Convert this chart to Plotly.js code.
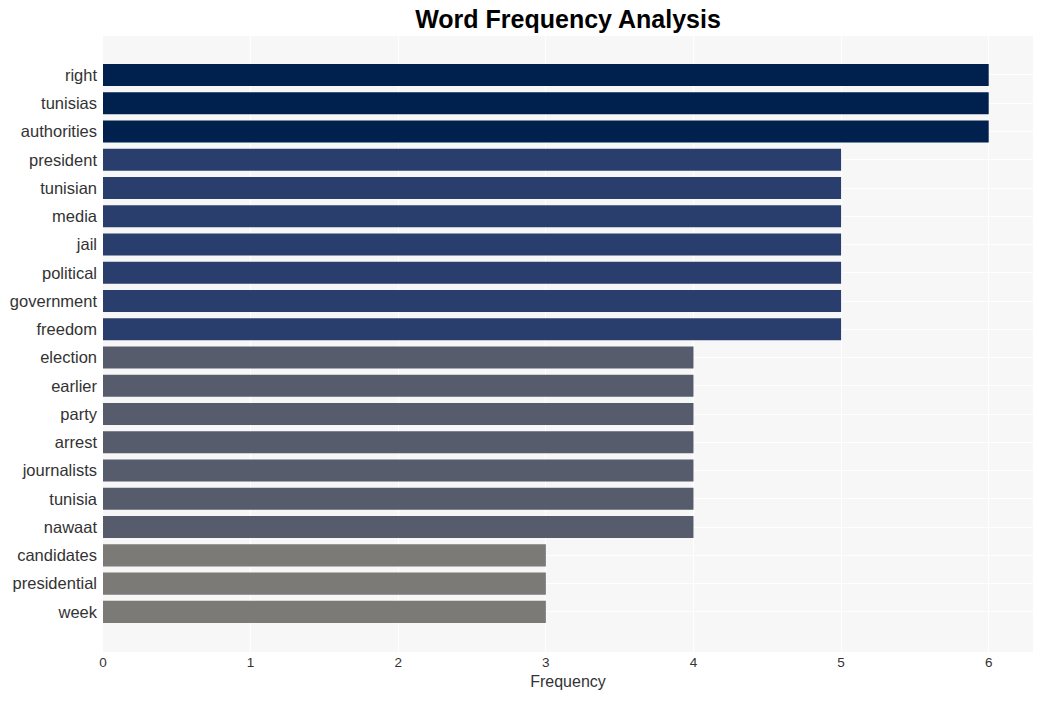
<!DOCTYPE html>
<html>
<head>
<meta charset="utf-8">
<script src="https://cdn.plot.ly/plotly-3.0.1.min.js"></script>
<style>html,body{margin:0;padding:0;background:#fff;}#chart{width:1042px;height:701px;}</style>
</head>
<body>
<div id="chart"></div>
<script>
const words = ["right","tunisias","authorities","president","tunisian","media","jail","political","government","freedom","election","earlier","party","arrest","journalists","tunisia","nawaat","candidates","presidential","week"];
const counts = [6,6,6,5,5,5,5,5,5,5,4,4,4,4,4,4,4,3,3,3];
const colorByCount = {6:"#00204e",5:"#2a3e6d",4:"#575c6d",3:"#7b7a76"};

const trace = {
  type: "bar",
  orientation: "h",
  x: counts,
  y: words,
  marker: {color: counts.map(c => colorByCount[c])},
  width: 0.78,
  hoverinfo: "x+y"
};

const layout = {
  width: 1042, height: 701,
  margin: {l: 103, r: 9, t: 36, b: 49},
  paper_bgcolor: "#ffffff",
  plot_bgcolor: "#f7f7f7",
  font: {family: "Liberation Sans, Arial, sans-serif", color: "#333"},
  title: {text: "<b>Word Frequency Analysis</b>", font: {size: 25, color: "#000"}, x: 0.5, xref: "paper", y: 0.972, yref: "container", yanchor: "middle"},
  xaxis: {
    range: [0, 6.3],
    tickvals: [0,1,2,3,4,5,6],
    gridcolor: "#ffffff", gridwidth: 1,
    zeroline: false,
    tickfont: {size: 13.5, color: "#333"},
    ticklabelstandoff: 0,
    title: {text: "Frequency", font: {size: 16, color: "#333"}, standoff: 7},
    showline: false
  },
  yaxis: {
    type: "category",
    range: [20.42, -1.38],
    gridcolor: "#ffffff",
    tickfont: {size: 16.5, color: "#333"},
    ticks: "", ticklen: 0,
    ticklabelstandoff: 5,
    automargin: false
  },
  showlegend: false,
  bargap: 0.2
};
Plotly.newPlot("chart", [trace], layout, {displayModeBar: false, staticPlot: false});
</script>
</body>
</html>
